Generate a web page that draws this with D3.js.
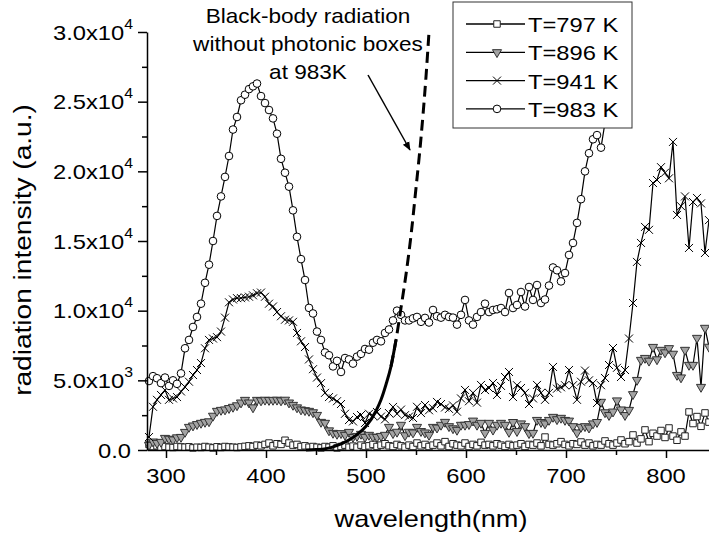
<!DOCTYPE html>
<html>
<head>
<meta charset="utf-8">
<script src="https://d3js.org/d3.v7.min.js"></script>
<style>
html, body { margin: 0; padding: 0; background: #fff; }
svg { display: block; font-family: Arial, "Liberation Sans", sans-serif; }
</style>
</head>
<body>
<div id="chart"></div>
<script>
// sampling grid of the spectra (nm)
let wavelength = [
  283,287,291,295,299,303,307,311,315,319,
  323,327,331,335,339,343,347,351,355,359,
  363,367,371,375,379,383,387,391,395,399,
  403,407,411,415,419,423,427,431,435,439,
  443,447,451,455,459,463,467,471,475,479,
  483,487,491,495,499,503,507,511,515,519,
  523,527,531,535,539,543,547,551,555,559,
  563,567,571,575,579,583,587,591,595,599,
  603,607,611,615,619,623,627,631,635,639,
  643,647,651,655,659,663,667,671,675,679,
  683,687,691,695,699,703,707,711,715,719,
  723,727,731,735,739,743,747,751,755,759,
  763,767,771,775,779,783,787,791,795,799,
  803,807,811,815,819,823,827,831,835,839,
  843
];

let t797 = [
  400,250,300,200,250,200,180,250,220,200,
  230,150,200,180,250,200,150,230,180,250,
  220,200,180,220,260,300,250,350,300,400,
  500,300,450,400,700,500,350,400,250,300,
  200,250,200,150,250,200,300,150,250,350,
  200,280,200,350,250,300,400,250,350,450,
  300,250,400,300,200,350,250,500,300,400,
  250,350,500,300,600,250,450,350,300,500,
  250,400,300,550,350,400,300,450,350,250,
  400,300,350,450,250,400,350,500,300,930,
  400,350,450,600,400,300,450,400,575,350,
  500,300,400,350,650,450,350,500,720,450,
  600,1080,500,800,1440,600,1200,1000,1400,900,
  1580,1000,700,1300,1000,2730,1900,2400,1700,2660,
  2000
];

let t896 = [
  360,600,500,575,860,800,750,900,930,1290,
  1650,1750,1850,1940,2010,2050,2450,2800,2870,2900,
  3000,3090,3200,3400,3590,3400,3050,3590,3550,3600,
  3580,3590,3600,3550,3600,3400,3230,3050,2900,2850,
  2800,2700,2510,2010,1940,1400,1220,1150,1200,1080,
  1290,930,1000,1150,930,1080,950,930,1000,1080,
  1650,1200,1300,1800,1050,1300,1250,1650,1350,1250,
  1080,1650,1600,1800,2010,1700,1550,1440,1800,1800,
  1850,2100,1800,1940,1220,1940,1450,1800,1940,1800,
  1290,2000,1350,1900,1700,1200,1220,2150,2000,1900,
  2150,2370,2200,2300,2150,2100,1700,1250,1650,1700,
  1600,1900,2000,3450,2700,2500,2750,3550,2900,2500,
  2870,4000,5020,6460,6600,6400,7390,6500,7180,7000,
  7300,6900,5380,5200,7180,6100,6100,8040,4520,8760,
  7400
];

let t941 = [
  930,3100,3600,3950,4300,3600,3700,3800,4200,4520,
  4900,5380,5740,6240,7300,7900,8000,8100,8500,9500,
  10600,10800,10900,10900,10950,11000,11100,11250,11300,11000,
  10500,10300,9900,9600,9350,9300,9200,8400,7800,7390,
  6500,5800,5200,4800,4100,3800,3700,3500,3300,2600,
  2150,2050,2370,2510,1940,2600,2450,2730,2400,2200,
  2650,3090,2600,2900,2500,2400,2300,3100,2650,3230,
  2850,3000,3450,3300,3050,2950,3200,2750,3700,4310,
  3500,4100,3400,4670,4300,4450,4810,3950,4600,5240,
  5600,3800,4650,4450,4100,3300,3700,4670,4100,3600,
  4100,5960,4400,4500,4650,5740,4650,3600,4900,5700,
  5000,4800,3370,4650,5170,6100,7320,5900,5240,5740,
  8000,10550,13500,14860,16010,15800,19160,19380,20300,19900,
  19500,22110,16870,17500,18200,14500,17800,18090,17700,14140,
  16500
];

// runs behind the legend box after ~740 nm
let t983 = [
  4950,5300,5150,4800,5200,4600,5000,4750,5500,7300,
  7900,8830,9550,10500,12000,13300,15000,16800,18200,19600,
  21100,23000,23900,25100,25500,25900,26100,26300,25400,24900,
  24400,23800,22700,20900,19900,18900,17200,15300,13700,12200,
  10200,9800,8500,7900,7000,6800,6000,6400,5600,6600,
  6500,6200,6700,6900,7250,7200,7700,7900,7800,8400,
  8650,9300,10000,9700,9300,9300,9450,9550,9200,9480,
  9150,10050,9600,9500,9700,9550,9500,9000,9700,10770,
  9300,9000,9550,9900,10500,9900,10050,10100,10190,9900,
  11270,10190,10410,11340,10300,11700,10770,11840,10550,10800,
  11800,13100,12900,12100,12700,14000,14860,16300,18000,20000,
  21300,22300,22600,21700,23500,25000,26500,27800,29200,30500
];

// black-body curve at 983K
let bbWavelength = [440,450,460,470,480,490,500,510,515,520,525,530,535,540,545,550,555,560,563];
let bbIntensity = [0,30,100,300,600,1050,1700,2800,3600,4700,6000,7900,10200,12600,15400,18800,22400,26800,30000];
let bbDashFrom = 527;

let seriesNames = ['T=797 K', 'T=896 K', 'T=941 K', 'T=983 K'];
let xTicks = [300, 400, 500, 600, 700, 800];
let xMinor = [350, 450, 550, 650, 750];
let yTicks = [0, 5000, 10000, 15000, 20000, 25000, 30000];
let yMinor = [2500, 7500, 12500, 17500, 22500, 27500];
let noteLines = ['Black-body radiation', 'without photonic boxes', 'at 983K'];

let w = 709;
let h = 537;
let sx = 1.13; // glyphs in the picture are a bit wider than tall

let svg = d3.select('#chart').append('svg')
  .attr('width', w)
  .attr('height', h);

let x = d3.scaleLinear().domain([281, 850]).range([147, 716]);
let y = d3.scaleLinear().domain([0, 30000]).range([450, 32]);

function label(g, px, py, str, size, anchor) {
  return g.append('text')
    .attr('transform', 'translate(' + px + ',' + py + ') scale(' + sx + ',1)')
    .attr('text-anchor', anchor || 'middle')
    .style('font-size', size + 'px')
    .text(str);
}

svg.append('defs').append('clipPath').attr('id', 'plot-clip')
  .append('rect').attr('x', 140).attr('y', 0).attr('width', 569).attr('height', 460);

let markers = {
  square: { d: d3.symbol(d3.symbolSquare, 42)(), fill: '#fff', stroke: '#222', rot: 0 },
  triangle: { d: d3.symbol(d3.symbolTriangle, 36)(), fill: '#a3a3a3', stroke: '#333', rot: 180 },
  cross: { d: 'M-4,-4L4,4M-4,4L4,-4', fill: 'none', stroke: '#000', rot: 0 },
  circle: { d: d3.symbol(d3.symbolCircle, 46)(), fill: '#fff', stroke: '#000', rot: 0 }
};

let series = [
  { name: seriesNames[0], values: t797, marker: 'square' },
  { name: seriesNames[1], values: t896, marker: 'triangle' },
  { name: seriesNames[2], values: t941, marker: 'cross' },
  { name: seriesNames[3], values: t983, marker: 'circle' }
];

let plot = svg.append('g').attr('clip-path', 'url(#plot-clip)');

let line = d3.line()
  .x((d, i) => x(wavelength[i]))
  .y(d => y(d));

series.forEach(s => {
  let m = markers[s.marker];
  let g = plot.append('g');
  g.append('path')
    .attr('d', line(s.values))
    .attr('fill', 'none')
    .attr('stroke', '#000')
    .attr('stroke-width', 1.2);
  g.selectAll('path.pt')
    .data(s.values)
    .enter()
    .append('path')
    .attr('class', 'pt')
    .attr('d', m.d)
    .attr('transform', (d, i) => 'translate(' + x(wavelength[i]) + ',' + y(d) + ') rotate(' + m.rot + ')')
    .attr('fill', m.fill)
    .attr('stroke', m.stroke)
    .attr('stroke-width', 1);
});

// black-body curve: solid where flat, dashed where steep
let bb = bbWavelength.map((d, i) => [d, bbIntensity[i]]);
let bbLine = d3.line().x(d => x(d[0])).y(d => y(d[1])).curve(d3.curveMonotoneX);
plot.append('path')
  .attr('d', bbLine(bb.filter(d => d[0] <= bbDashFrom + 3)))
  .attr('fill', 'none')
  .attr('stroke', '#000')
  .attr('stroke-width', 3);
plot.append('path')
  .attr('d', bbLine(bb.filter(d => d[0] >= bbDashFrom - 2)))
  .attr('fill', 'none')
  .attr('stroke', '#000')
  .attr('stroke-width', 3)
  .attr('stroke-dasharray', '11,6');

// axes
function styleAxis(g) {
  g.selectAll('path, line').attr('stroke', '#000').attr('stroke-width', 1.5);
  g.selectAll('text').remove();
}

svg.append('g').attr('transform', 'translate(0,450)')
  .call(d3.axisBottom(x).tickValues(xTicks).tickSize(8).tickSizeOuter(0))
  .call(styleAxis);
svg.append('g').attr('transform', 'translate(0,450)')
  .call(d3.axisBottom(x).tickValues(xMinor).tickSize(5).tickSizeOuter(0))
  .call(styleAxis)
  .select('.domain').remove();
svg.append('g').attr('transform', 'translate(147,0)')
  .call(d3.axisLeft(y).tickValues(yTicks).tickSize(9).tickSizeOuter(0))
  .call(styleAxis);
svg.append('g').attr('transform', 'translate(147,0)')
  .call(d3.axisLeft(y).tickValues(yMinor).tickSize(5).tickSizeOuter(0))
  .call(styleAxis)
  .select('.domain').remove();

let labels = svg.append('g').attr('fill', '#000');

xTicks.forEach(t => label(labels, x(t), 483, String(t), 21));

yTicks.forEach(t => {
  if (t === 0) {
    label(labels, 131, y(t) + 7.5, '0.0', 21, 'end');
    return;
  }
  let e = Math.floor(Math.log10(t));
  let txt = labels.append('text')
    .attr('transform', 'translate(133,' + (y(t) + 7.5) + ') scale(' + sx + ',1)')
    .attr('text-anchor', 'end')
    .style('font-size', '21px');
  txt.append('tspan').text((t / Math.pow(10, e)).toFixed(1) + 'x10');
  txt.append('tspan').attr('dy', -11).style('font-size', '14px').text(e);
});

label(labels, 431, 527, 'wavelength(nm)', 24);
labels.append('text')
  .attr('transform', 'translate(31,250) rotate(-90) scale(1.17,1)')
  .attr('text-anchor', 'middle')
  .style('font-size', '24px')
  .text('radiation intensity (a.u.)');

// legend
let legend = svg.append('g').attr('id', 'legend');
legend.append('rect')
  .attr('x', 453).attr('y', 2)
  .attr('width', 179).attr('height', 126)
  .attr('fill', '#fff')
  .attr('stroke', '#333')
  .attr('stroke-width', 1);
series.forEach((s, i) => {
  let cy = 24 + i * 28.3;
  let m = markers[s.marker];
  legend.append('line')
    .attr('x1', 466).attr('x2', 525)
    .attr('y1', cy).attr('y2', cy)
    .attr('stroke', '#000').attr('stroke-width', 1.3);
  legend.append('path')
    .attr('d', m.d)
    .attr('transform', 'translate(497,' + cy + ') rotate(' + m.rot + ')')
    .attr('fill', m.fill).attr('stroke', m.stroke).attr('stroke-width', 1);
  label(legend, 528, cy + 8, s.name, 21, 'start');
});

// annotation
let note = svg.append('g');
noteLines.forEach((t, i) => label(note, 308, 23 + i * 28, t, 20));
svg.append('defs').append('marker')
  .attr('id', 'arrow')
  .attr('viewBox', '0 0 10 10')
  .attr('refX', 9).attr('refY', 5)
  .attr('markerWidth', 6).attr('markerHeight', 6)
  .attr('orient', 'auto')
  .append('path').attr('d', 'M0,1L10,5L0,9Z').attr('fill', '#000');
note.append('line')
  .attr('x1', 368).attr('y1', 75)
  .attr('x2', 410).attr('y2', 150)
  .attr('stroke', '#000').attr('stroke-width', 1.5)
  .attr('marker-end', 'url(#arrow)');
</script>
</body>
</html>
